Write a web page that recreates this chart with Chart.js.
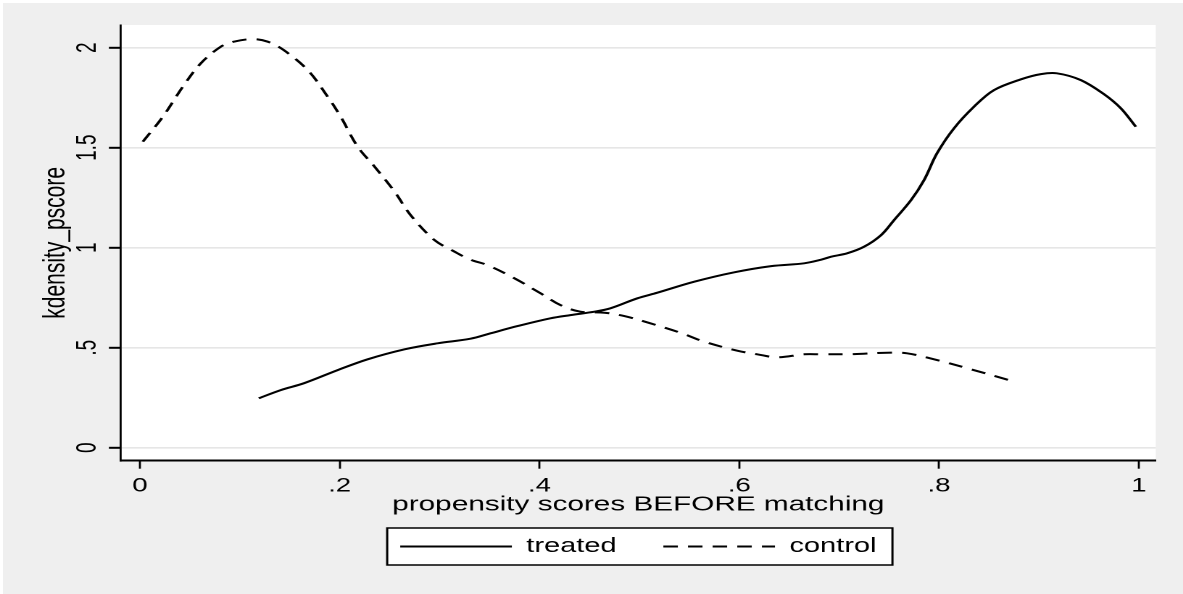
<!DOCTYPE html>
<html>
<head>
<meta charset="utf-8">
<title>kdensity pscore</title>
<script src="https://cdn.jsdelivr.net/npm/chart.js@4.4.1/dist/chart.umd.min.js"></script>
<style>
  html, body { margin: 0; padding: 0; background: #fff; overflow: hidden; }
  /* the Stata export was stretched sideways, so draw narrow and stretch */
  #wrap { position: absolute; left: 0; top: 0; width: 816px; height: 594px;
          transform: scaleX(1.4498); transform-origin: 0 0; }
</style>
</head>
<body>
<div id="wrap"><canvas id="densityChart"></canvas></div>
<script>
// Kernel density of the propensity score
const treatedX = [0.119, 0.141, 0.164, 0.198, 0.228, 0.265, 0.298, 0.331, 0.351, 0.378,
  0.411, 0.431, 0.455, 0.471, 0.498, 0.518, 0.555, 0.595, 0.632, 0.665,
  0.682, 0.692, 0.708, 0.725, 0.742, 0.755, 0.772, 0.785, 0.798, 0.815,
  0.835, 0.855, 0.882, 0.902, 0.918, 0.942, 0.965, 0.982, 0.997];
const treatedY = [0.247, 0.288, 0.322, 0.388, 0.442, 0.492, 0.522, 0.545, 0.572, 0.608,
  0.647, 0.663, 0.680, 0.697, 0.747, 0.775, 0.830, 0.877, 0.908, 0.922,
  0.940, 0.955, 0.972, 1.005, 1.063, 1.138, 1.238, 1.338, 1.472, 1.597,
  1.705, 1.788, 1.842, 1.868, 1.872, 1.838, 1.768, 1.697, 1.605];

const controlX = [0.003, 0.023, 0.043, 0.061, 0.081, 0.094, 0.113, 0.128, 0.144, 0.168,
  0.188, 0.201, 0.218, 0.235, 0.255, 0.271, 0.295, 0.315, 0.331, 0.348,
  0.375, 0.401, 0.421, 0.441, 0.465, 0.485, 0.511, 0.541, 0.565, 0.598,
  0.618, 0.638, 0.665, 0.682, 0.715, 0.748, 0.768, 0.798, 0.832, 0.870];
const controlY = [1.530, 1.655, 1.805, 1.922, 2.005, 2.030, 2.043, 2.030, 1.988, 1.888,
  1.755, 1.655, 1.505, 1.405, 1.280, 1.163, 1.038, 0.980, 0.940, 0.913,
  0.847, 0.772, 0.713, 0.680, 0.675, 0.658, 0.622, 0.575, 0.530, 0.485,
  0.467, 0.452, 0.467, 0.467, 0.468, 0.475, 0.472, 0.438, 0.392, 0.338];

const xTicks = [0, 0.2, 0.4, 0.6, 0.8, 1];
const xTickLabels = ['0', '.2', '.4', '.6', '.8', '1'];
const yTicks = [0, 0.5, 1, 1.5, 2];
const yTickLabels = ['0', '.5', '1', '1.5', '2'];

const seriesNames = ['treated', 'control'];
const xTitle = 'propensity scores BEFORE matching';
const yTitle = 'kdensity_pscore';

const toPoints = (xs, ys) => xs.map((x, i) => ({ x: x, y: ys[i] }));

Chart.defaults.font.family = "'Liberation Sans', Arial, Helvetica, sans-serif";
Chart.defaults.color = '#000';

// grey graph region, white plot region and the framed legend
const stataBackground = {
  id: 'stataBackground',
  beforeDraw(chart) {
    const { ctx, chartArea: a, width, height } = chart;
    ctx.save();
    ctx.fillStyle = '#efefef';
    ctx.fillRect(2, 3, width - 2, height - 3);
    ctx.fillStyle = '#ffffff';
    ctx.fillRect(a.left, a.top, a.right - a.left, a.bottom - a.top);

    const hb = chart.legend && chart.legend.legendHitBoxes;
    if (hb && hb.length) {
      const last = hb[hb.length - 1];
      const left = hb[0].left - 9;
      const right = last.left + last.width + 11;
      const mid = hb[0].top + hb[0].height / 2;
      ctx.fillRect(left, mid - 18.5, right - left, 37);
      ctx.strokeStyle = '#000';
      ctx.lineWidth = 1.5;
      ctx.strokeRect(left, mid - 18.5, right - left, 37);
    }
    ctx.restore();
  }
};

new Chart(document.getElementById('densityChart'), {
  type: 'scatter',
  data: {
    datasets: [{
      label: seriesNames[0],
      data: toPoints(treatedX, treatedY),
      showLine: true,
      borderColor: '#000',
      backgroundColor: '#000',
      borderWidth: 2,
      pointRadius: 0,
      tension: 0.35
    }, {
      label: seriesNames[1],
      data: toPoints(controlX, controlY),
      showLine: true,
      borderColor: '#000',
      backgroundColor: '#000',
      borderWidth: 2,
      borderDash: [10, 7],
      pointRadius: 0,
      tension: 0.35
    }]
  },
  options: {
    responsive: true,
    maintainAspectRatio: false,
    animation: false,
    devicePixelRatio: 2,
    layout: {
      padding: { top: 25, right: 18.8, bottom: 27.5, left: 0 }
    },
    plugins: {
      tooltip: { enabled: false },
      legend: {
        position: 'bottom',
        fullSize: false,
        labels: {
          usePointStyle: true,
          pointStyle: 'line',
          pointStyleWidth: 77,
          padding: 10,
          color: '#000',
          font: { size: 20 },
          generateLabels: (chart) => {
            const items = Chart.defaults.plugins.legend.labels.generateLabels(chart);
            items.forEach((item, i) => {
              const ds = chart.data.datasets[i];
              item.lineDash = ds.borderDash || [];
              item.lineWidth = ds.borderWidth;
              item.strokeStyle = ds.borderColor;
            });
            items[0].text = items[0].text + '    ';
            return items;
          }
        }
      }
    },
    scales: {
      x: {
        type: 'linear',
        min: -0.019,
        max: 1.017,
        afterBuildTicks: (scale) => { scale.ticks = xTicks.map(v => ({ value: v })); },
        afterFit: (scale) => { scale.height = 65.8; },
        ticks: {
          autoSkip: false,
          maxRotation: 0,
          padding: 6,
          font: { size: 19 },
          callback: (value) => xTickLabels[xTicks.indexOf(value)]
        },
        grid: {
          drawOnChartArea: false,
          tickLength: 8,
          tickColor: '#000',
          tickWidth: 1.4
        },
        border: { color: '#000', width: 2 },
        title: {
          display: true,
          text: xTitle,
          font: { size: 20.5 },
          padding: { top: 0, bottom: 9.5 }
        }
      },
      y: {
        type: 'linear',
        min: -0.065,
        max: 2.1135,
        afterBuildTicks: (scale) => { scale.ticks = yTicks.map(v => ({ value: v })); },
        afterFit: (scale) => { scale.width = 83.4; },
        ticks: {
          autoSkip: false,
          minRotation: 90,
          maxRotation: 90,
          crossAlign: 'center',
          padding: 1,
          font: { size: 19 },
          callback: (value) => yTickLabels[yTicks.indexOf(value)]
        },
        grid: {
          color: '#e6e6e6',
          lineWidth: 1.6,
          tickLength: 8.3,
          tickColor: '#000',
          tickWidth: 2
        },
        border: { color: '#000', width: 1.4 },
        title: {
          display: true,
          text: yTitle,
          font: { size: 21 },
          padding: { top: 26, bottom: 0 }
        }
      }
    }
  },
  plugins: [stataBackground]
});
</script>
</body>
</html>
